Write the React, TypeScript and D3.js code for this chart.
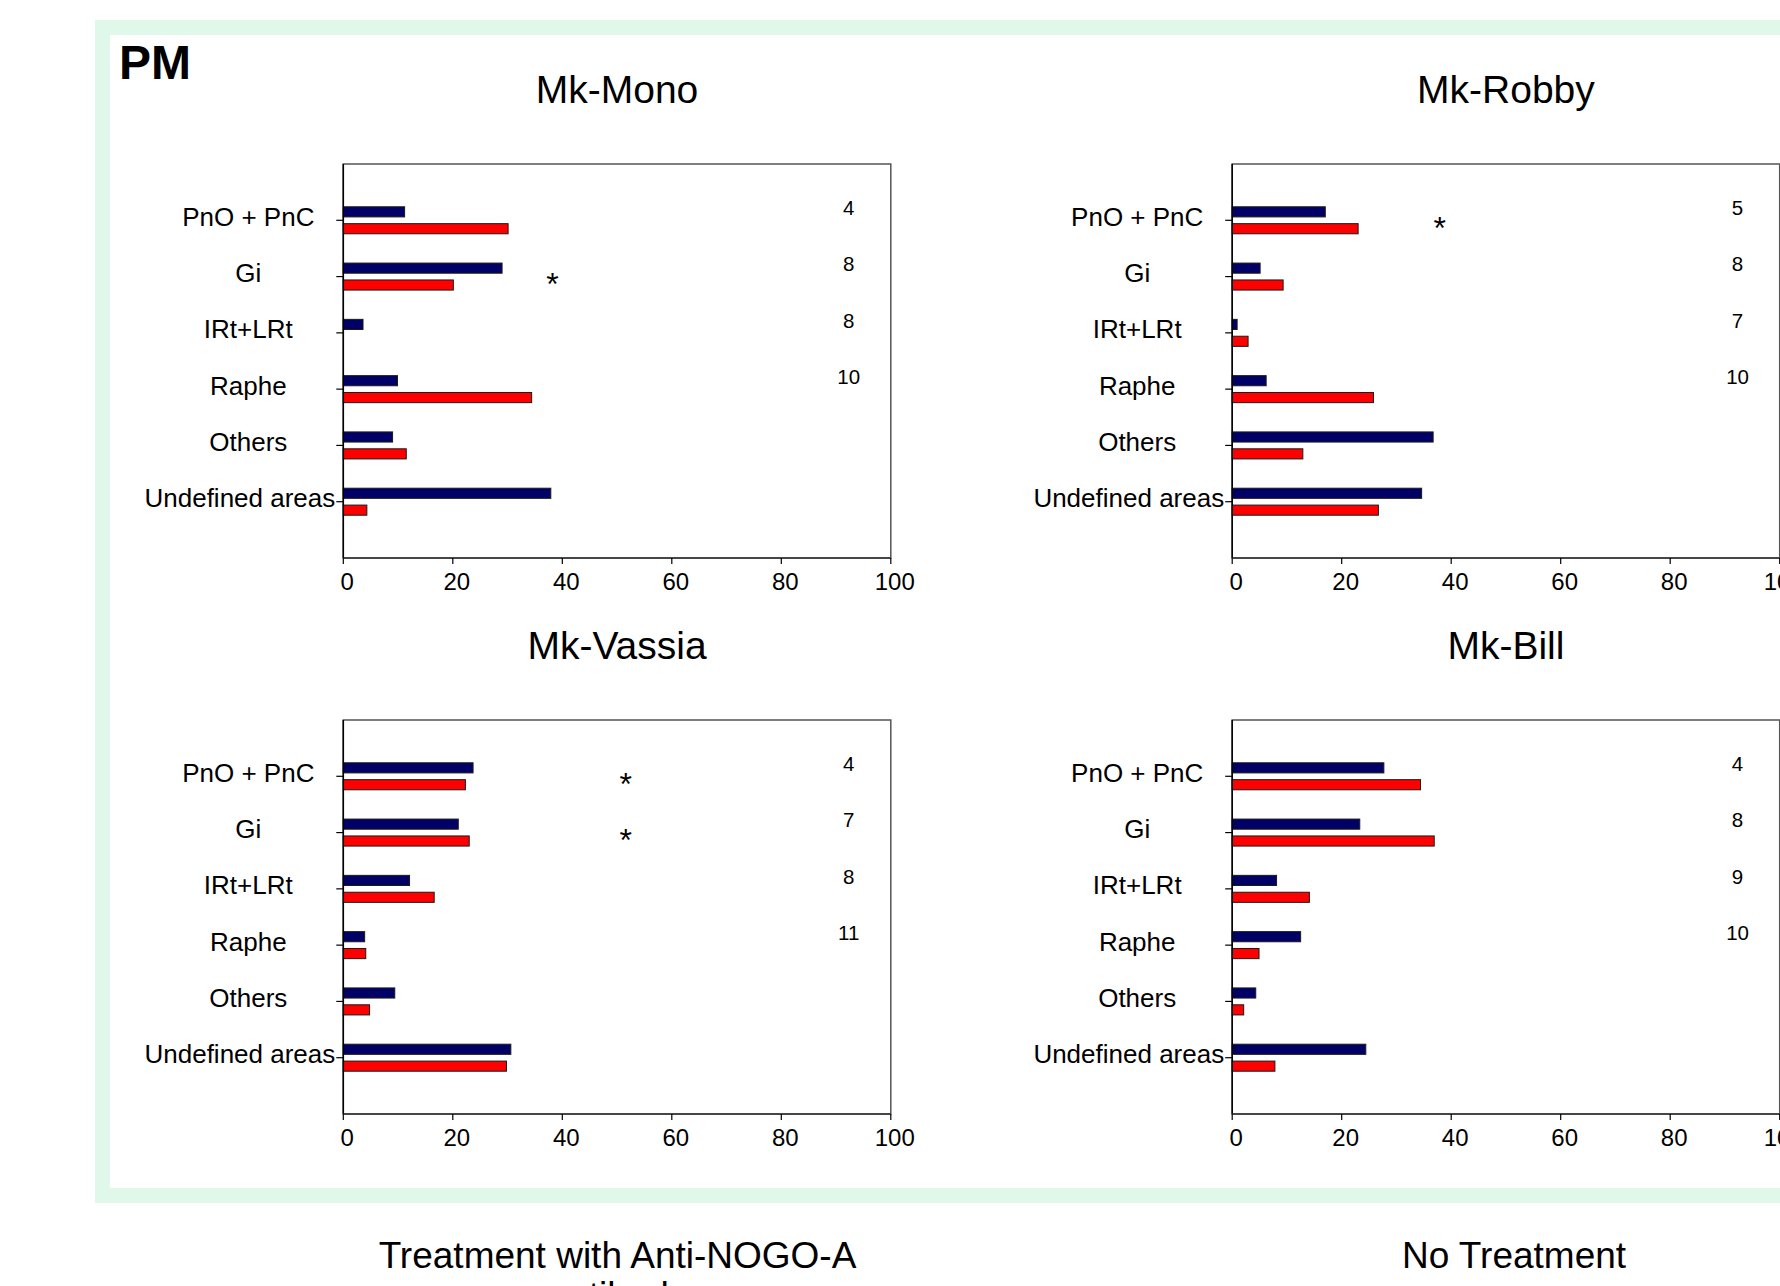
import React from "react";
import * as d3 from "d3";

const FONT = "'Liberation Sans', Arial, Helvetica, sans-serif";

const categories = ["PnO + PnC", "Gi", "IRt+LRt", "Raphe", "Others", "Undefined areas"];
const xTickValues = [0, 20, 40, 60, 80, 100];

const monoBlue = [11.2, 29.0, 3.6, 9.9, 9.0, 37.9];
const monoRed = [30.1, 20.1, 0, 34.4, 11.5, 4.3];
const monoN = ["4", "8", "8", "10"];
const monoStars = [{ cat: "Gi", x: 38.2 }];

const robbyBlue = [17.0, 5.1, 0.9, 6.2, 36.7, 34.6];
const robbyRed = [23.0, 9.3, 2.9, 25.8, 12.9, 26.7];
const robbyN = ["5", "8", "7", "10"];
const robbyStars = [{ cat: "PnO + PnC", x: 37.9 }];

const vassiaBlue = [23.7, 21.0, 12.1, 3.9, 9.4, 30.6];
const vassiaRed = [22.3, 23.0, 16.6, 4.1, 4.8, 29.8];
const vassiaN = ["4", "7", "8", "11"];
const vassiaStars = [{ cat: "PnO + PnC", x: 51.6 }, { cat: "Gi", x: 51.6 }];

const billBlue = [27.7, 23.3, 8.1, 12.5, 4.3, 24.4];
const billRed = [34.4, 36.9, 14.1, 4.9, 2.1, 7.8];
const billN = ["4", "8", "9", "10"];
const billStars: { cat: string; x: number }[] = [];

const panels = [
  { title: "Mk-Mono", blue: monoBlue, red: monoRed, n: monoN, stars: monoStars, col: 0, row: 0 },
  { title: "Mk-Robby", blue: robbyBlue, red: robbyRed, n: robbyN, stars: robbyStars, col: 1, row: 0 },
  { title: "Mk-Vassia", blue: vassiaBlue, red: vassiaRed, n: vassiaN, stars: vassiaStars, col: 0, row: 1 },
  { title: "Mk-Bill", blue: billBlue, red: billRed, n: billN, stars: billStars, col: 1, row: 1 },
];

const W = 1780;
const H = 1286;
const COL_LEFT = [343.3, 1232.2];
const ROW_TOP = [164, 720];
const PW = 547.5;
const PH = 394;
const BLUE = "#000066";
const RED = "#ff0000";
const N_X = 92.3;
const STAR_FS = 32;

let ctx: CanvasRenderingContext2D | null = null;
function measure(text: string, size: number) {
  if (!ctx) ctx = document.createElement("canvas").getContext("2d");
  if (!ctx) return text.length * size * 0.5;
  ctx.font = `${size}px ${FONT}`;
  return ctx.measureText(text).width;
}

function Panel({ p }: { p: (typeof panels)[number] }) {
  const x0 = COL_LEFT[p.col];
  const y0 = ROW_TOP[p.row];
  const x = d3.scaleLinear().domain([0, 100]).range([x0, x0 + PW]);
  const y = d3.scalePoint<string>().domain(categories).range([y0, y0 + PH]).padding(1);
  const sub = d3.scaleBand<string>().domain(["blue", "red"]).range([-13.5, 13.5]).paddingInner(0.4);
  const catFs = 26;
  const labelCenter = x0 - 95;
  const bw = sub.bandwidth();

  return (
    <g>
      <text x={(x0 + x0 + PW) / 2} y={y0 - 61} textAnchor="middle" fontSize={39} fontFamily={FONT}>
        {p.title}
      </text>
      <rect x={x0} y={y0} width={PW} height={PH} fill="#fff" stroke="#555" strokeWidth={1.5} />
      {categories.map((c, i) => {
        const cy = y(c) as number;
        const bars = [
          { k: "blue", v: p.blue[i], fill: BLUE },
          { k: "red", v: p.red[i], fill: RED },
        ];
        return (
          <g key={c}>
            {bars.map((b) =>
              b.v > 0 ? (
                <rect
                  key={b.k}
                  x={x(0)}
                  y={cy + (sub(b.k) as number)}
                  width={x(b.v) - x(0)}
                  height={bw}
                  fill={b.fill}
                  stroke="#1a1a1a"
                  strokeWidth={1}
                />
              ) : null
            )}
          </g>
        );
      })}
      {/* left axis */}
      <line x1={x0} x2={x0} y1={y0} y2={y0 + PH} stroke="#000" strokeWidth={1.5} />
      {categories.map((c) => {
        const cy = y(c) as number;
        const w = measure(c, catFs);
        let right = labelCenter + w / 2;
        if (right > x0 - 8) right = x0 - 8;
        return (
          <g key={"t" + c}>
            <line x1={x0 - 7} x2={x0} y1={cy} y2={cy} stroke="#000" strokeWidth={1.2} />
            <text x={right} y={cy + 5.5} textAnchor="end" fontSize={catFs} fontFamily={FONT}>
              {c}
            </text>
          </g>
        );
      })}
      {/* bottom axis */}
      <line x1={x0} x2={x0 + PW} y1={y0 + PH} y2={y0 + PH} stroke="#333" strokeWidth={1.5} />
      {xTickValues.map((t) => (
        <g key={"x" + t}>
          <line x1={x(t)} x2={x(t)} y1={y0 + PH} y2={y0 + PH + 6} stroke="#000" strokeWidth={1.2} />
          <text x={x(t) + 4} y={y0 + PH + 32} textAnchor="middle" fontSize={24} fontFamily={FONT}>
            {t}
          </text>
        </g>
      ))}
      {/* n labels */}
      {p.n.map((n, i) => {
        const cy = y(categories[i]) as number;
        return (
          <text key={"n" + i} x={x(N_X)} y={cy - 12.5 + 7.4} textAnchor="middle" fontSize={20.5} fontFamily={FONT}>
            {n}
          </text>
        );
      })}
      {/* significance stars */}
      {p.stars.map((s, i) => {
        const cy = y(s.cat) as number;
        return (
          <text
            key={"s" + i}
            x={x(s.x)}
            y={cy + 0.5 + 0.57 * STAR_FS}
            textAnchor="middle"
            fontSize={STAR_FS}
            fontFamily={FONT}
          >
            *
          </text>
        );
      })}
    </g>
  );
}

export default function App() {
  return (
    <svg
      width={W}
      height={H}
      viewBox={`0 0 ${W} ${H}`}
      style={{ position: "absolute", left: 0, top: 0, background: "#fff" }}
    >
      <rect x={0} y={0} width={W} height={H} fill="#fff" />
      <rect x={95} y={20} width={W} height={1203 - 20} fill="#dff8ea" />
      <rect x={110} y={35} width={W} height={1188 - 35} fill="#fff" />
      <text x={119} y={79} fontSize={48} fontWeight="bold" fontFamily={FONT}>
        PM
      </text>
      {panels.map((p) => (
        <Panel key={p.title} p={p} />
      ))}
      <text x={617.5} y={1268} textAnchor="middle" fontSize={37} fontFamily={FONT}>
        <tspan x={617.5}>Treatment with Anti-NOGO-A</tspan>
        <tspan x={617.5} dy={40}>antibody</tspan>
      </text>
      <text x={1514} y={1268} textAnchor="middle" fontSize={37} fontFamily={FONT}>
        No Treatment
      </text>
    </svg>
  );
}
